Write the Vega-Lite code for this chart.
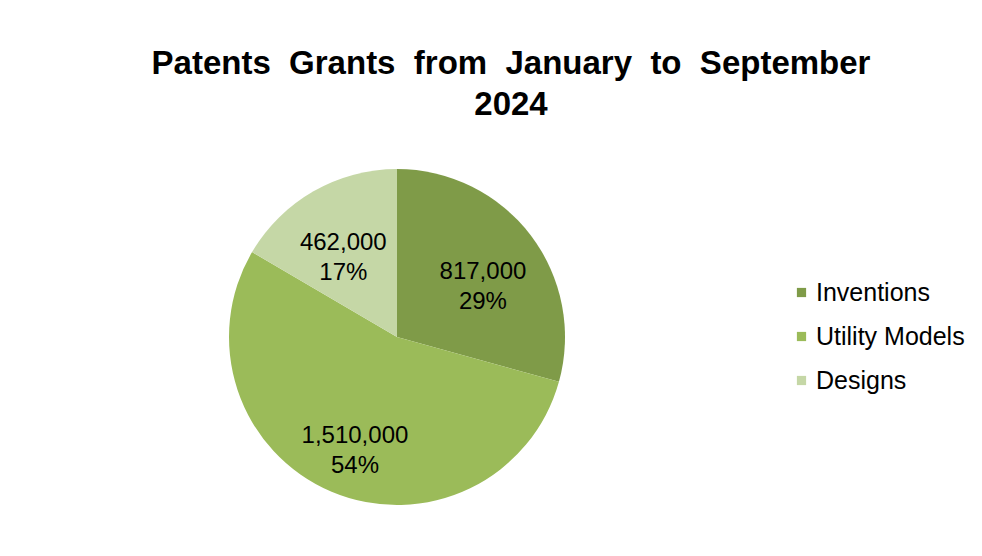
{
  "$schema": "https://vega.github.io/schema/vega-lite/v6.json",
  "width": 336,
  "height": 336,
  "autosize": {"type": "none"},
  "padding": {"left": 229, "top": 169, "right": 417, "bottom": 51},
  "background": "white",
  "config": {"view": {"stroke": null}},
  "title": {
    "text": ["Patents \u00a0Grants \u00a0from \u00a0January \u00a0to \u00a0September", "2024"],
    "font": "Liberation Sans",
    "fontSize": 33,
    "fontWeight": "bold",
    "color": "#000000",
    "anchor": "middle",
    "dx": 114,
    "offset": 47,
    "lineHeight": 41
  },
  "data": {
    "values": [
      {"category": "Inventions", "value": 817000, "idx": 1, "label": "817,000\n29%"},
      {"category": "Utility Models", "value": 1510000, "idx": 2, "label": "1,510,000\n54%"},
      {"category": "Designs", "value": 462000, "idx": 3, "label": "462,000\n17%"}
    ]
  },
  "encoding": {
    "theta": {"field": "value", "type": "quantitative", "stack": true},
    "order": {"field": "idx", "type": "quantitative"}
  },
  "layer": [
    {
      "mark": {"type": "arc", "outerRadius": 168},
      "encoding": {
        "color": {
          "field": "category",
          "type": "nominal",
          "scale": {"domain": ["Inventions", "Utility Models", "Designs"], "range": ["#7f9b48", "#9bbb59", "#c5d7a6"]},
          "legend": {
            "orient": "none",
            "legendX": 560,
            "legendY": 111,
            "title": null,
            "symbolType": "square",
            "symbolSize": 85,
            "symbolStrokeWidth": 0,
            "labelFont": "Liberation Sans",
            "labelFontSize": 25,
            "labelColor": "#000000",
            "labelOffset": 2,
            "rowPadding": 18
          }
        }
      }
    },
    {
      "mark": {"type": "text", "radius": 108, "font": "Liberation Sans", "fontSize": 24, "lineBreak": "\n", "align": "center", "baseline": "middle", "lineHeight": 30, "color": "#000000"},
      "encoding": {"text": {"field": "label", "type": "nominal"}}
    }
  ]
}
